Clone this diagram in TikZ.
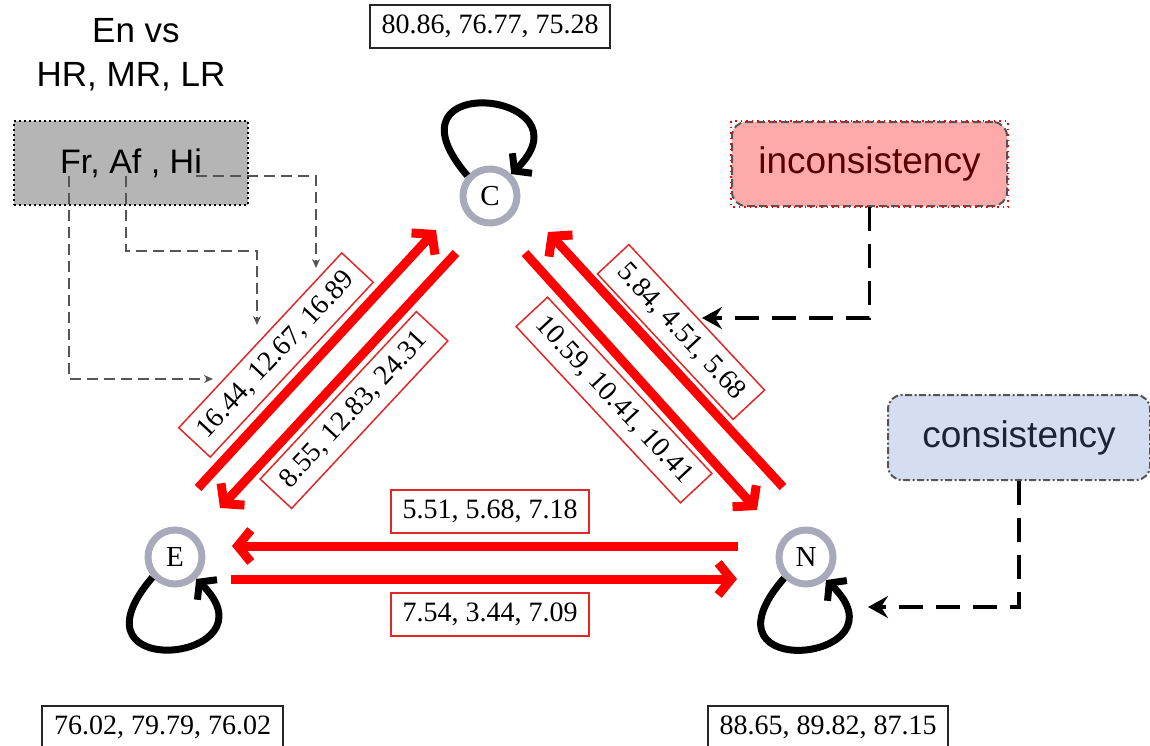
\documentclass[tikz,border=0pt]{standalone}
\usepackage{fontspec}
\setmainfont{Liberation Serif}
\newfontfamily\sansf{Liberation Sans}
\usetikzlibrary{arrows.meta,calc}
\definecolor{ring}{HTML}{A9A9BC}
\definecolor{lblred}{HTML}{E02828}
\definecolor{greybox}{HTML}{B5B5B5}
\definecolor{pinkbox}{HTML}{FFAAAA}
\definecolor{bluebox}{HTML}{D4DEF0}
\definecolor{darkred}{HTML}{5A0000}
\definecolor{navy}{HTML}{1B2334}
\definecolor{dgrey}{HTML}{555555}
\begin{document}
\begin{tikzpicture}[x=1pt,y=-1pt,
  state/.style={circle, draw=ring, line width=7pt, minimum size=54pt, inner sep=0pt, fill=white, font=\fontsize{29}{32}\selectfont},
  valbox/.style={draw=black!85, line width=2pt, minimum height=43pt, inner xsep=10pt, inner ysep=0pt, fill=white, font=\fontsize{28}{32}\selectfont},
  lbl/.style={draw=lblred, line width=1.5pt, minimum height=43pt, inner xsep=8pt, inner ysep=0pt, fill=white, font=\fontsize{28}{32}\selectfont},
  redarr/.style={draw=red, line width=9pt, -{Straight Barb[length=13pt,width=32pt]}},
  looparr/.style={draw=black, line width=7pt, -{Straight Barb[length=11pt,width=28pt]}},
  blkdash/.style={draw=black, line width=3.5pt, dash pattern=on 24pt off 13pt, -{Stealth[length=20pt,width=22pt,inset=7pt]}},
  greyarr/.style={draw=dgrey, line width=2pt, dash pattern=on 11pt off 6pt, -{Stealth[length=9pt,width=8pt]}},
  sanslbl/.style={font=\sansf\fontsize{35}{40}\selectfont, inner sep=0pt}
]
\useasboundingbox (0,0) rectangle (1150,745);

% heading
\node[sanslbl, anchor=base] (h1) at (136,42) {En vs};
\node[sanslbl, anchor=base] (h2) at (131,86) {HR, MR, LR};

% grey box
\node[draw=black, fill=greybox, line width=2pt, dash pattern=on 2pt off 3pt,
      minimum width=234pt, minimum height=84pt, inner sep=0pt,
      font=\sansf\fontsize{34}{38}\selectfont] (G) at (131,163) {Fr, Af , Hi};

% state nodes
\node[state] (C) at (490,196) {C};
\node[state] (E) at (175,557) {E};
\node[state] (N) at (806,557) {N};

% value boxes
\node[valbox, minimum width=240pt] (vc) at (490,26.5) {80.86, 76.77, 75.28};
\node[valbox, minimum width=241pt] (ve) at (162.5,727) {76.02, 79.79, 76.02};
\node[valbox, minimum width=240pt] (vn) at (828,727) {88.65, 89.82, 87.15};

% self loops
\draw[looparr] (C.138) .. controls ($(C)+(-115,-128)$) and ($(C)+(105,-104)$) .. (C.46);
\draw[looparr] (E.222) .. controls ($(E)+(-115,128)$) and ($(E)+(105,104)$) .. (E.314);
\draw[looparr] (N.224) .. controls ($(N)+(-115,128)$) and ($(N)+(105,104)$) .. (N.311);

% red transitions
\draw[redarr] ($(E)+(23,-69)$) -- ($(C)+(-54,34)$);
\draw[redarr] ($(C)+(-34,57)$) -- ($(E)+(45,-49)$);
\draw[redarr] ($(N)+(-23,-70)$) -- ($(C)+(58,36)$);
\draw[redarr] ($(C)+(35,57)$) -- ($(N)+(-49,-47)$);
\draw[redarr] ($(N)+(-68,-11)$) -- ($(E)+(57,-11)$);
\draw[redarr] ($(E)+(56,22)$) -- ($(N)+(-69,22)$);

% transition labels
\node[lbl, rotate=47, minimum width=239pt] (l1) at (276,355) {16.44, 12.67, 16.89};
\node[lbl, rotate=47, minimum width=229pt] (l2) at (354,410) {8.55, 12.83, 24.31};
\node[lbl, rotate=-47, minimum width=199pt] (l3) at (681,332) {5.84, 4.51, 5.68};
\node[lbl, rotate=-47, minimum width=241pt] (l4) at (614,400) {10.59, 10.41, 10.41};
\node[lbl, minimum width=198pt] (l5) at (490,511.5) {5.51, 5.68, 7.18};
\node[lbl, minimum width=198pt] (l6) at (490,614.5) {7.54, 3.44, 7.09};

% inconsistency / consistency
\node[draw=dgrey, fill=pinkbox, line width=2pt, dash pattern=on 8pt off 4pt, rounded corners=14pt,
      minimum width=275pt, minimum height=84pt, inner sep=0pt, text=darkred,
      font=\sansf\fontsize{37}{40}\selectfont] (I) at (869.5,164) {inconsistency};
\draw[red, line width=1.5pt, dash pattern=on 1.5pt off 4pt] (I.north west) rectangle (I.south east);
\node[draw=dgrey, fill=bluebox, line width=2pt, dash pattern=on 7pt off 2.5pt on 2pt off 2.5pt, rounded corners=14pt,
      minimum width=262pt, minimum height=85pt, inner sep=0pt, text=navy,
      font=\sansf\fontsize{37}{40}\selectfont] (K) at (1019,437.5) {consistency};

\coordinate (t1) at (702,318);
\coordinate (t2) at (868,607);
\draw[blkdash] (I.south) |- (t1);
\draw[blkdash] (K.south) |- (t2);

% grey dashed arrows from grey box to label
\draw[greyarr] ($(G)+(65,13)$) -| ($(l1)+(40,-87)$);
\draw[greyarr] ($(G)+(-5,13)$) |- ($(l1)+(-19,-104)$) -- ($(l1)+(-19,-30)$);
\draw[greyarr] ($(G)+(-62,13)$) |- ($(l1)+(-63,24)$);
\end{tikzpicture}
\end{document}
